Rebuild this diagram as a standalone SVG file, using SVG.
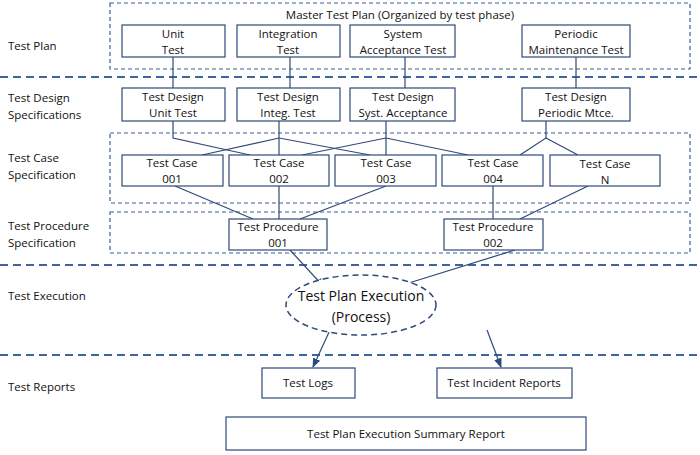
<svg xmlns="http://www.w3.org/2000/svg" width="700" height="455" viewBox="0 0 700 455">
<style>
text{font-family:"Open Sans","Liberation Sans",sans-serif;font-size:11.5px;fill:#111}
.c{text-anchor:middle}
.b{fill:#fff;stroke:#2e4a78;stroke-width:1.2}
.d{fill:none;stroke:#3d5f96;stroke-width:1.2;stroke-dasharray:4,3}
.s{fill:none;stroke:#3d65a0;stroke-width:2;stroke-dasharray:8,5}
.k{stroke:#2e4a78;stroke-width:1.2;fill:none}
</style>
<defs><marker id="a" viewBox="0 0 10 10" refX="9" refY="5" markerWidth="8" markerHeight="8" orient="auto"><path d="M0,1L10,5L0,9z" fill="#2e4a78"/></marker></defs>
<g id="phases">
<line class="s" x1="0" y1="77" x2="700" y2="77"/><line class="s" x1="0" y1="265" x2="700" y2="265"/><line class="s" x1="0" y1="355" x2="700" y2="355"/>
<rect class="d" x="110" y="3" width="580" height="66"/><rect class="d" x="110" y="133" width="580" height="70"/><rect class="d" x="110" y="212" width="580" height="41"/>
<text x="8" y="50">Test Plan</text>
<text x="8" y="102">Test Design</text><text x="8" y="119">Specifications</text>
<text x="8" y="162">Test Case</text><text x="8" y="179">Specification</text>
<text x="8" y="230">Test Procedure</text><text x="8" y="247">Specification</text>
<text x="8" y="300">Test Execution</text>
<text x="8" y="391">Test Reports</text>
<text class="c" x="400" y="19">Master Test Plan (Organized by test phase)</text>
</g>
<g id="connectors" class="k">
<line x1="173" y1="57" x2="173" y2="88"/><line x1="290" y1="57" x2="290" y2="88"/><line x1="405" y1="57" x2="405" y2="88"/><line x1="576" y1="57" x2="576" y2="88"/>
<polyline points="173,121 173,138 250,155"/><polyline points="279,121 279,155"/><line x1="279" y1="138" x2="202" y2="155"/><line x1="279" y1="138" x2="370" y2="155"/>
<polyline points="386,121 386,155"/><line x1="386" y1="138" x2="302" y2="155"/><line x1="386" y1="138" x2="468" y2="155"/>
<polyline points="546,121 546,138 520,155"/><line x1="546" y1="138" x2="578" y2="155"/>
<line x1="175" y1="186" x2="253" y2="219"/><line x1="279" y1="186" x2="279" y2="219"/><line x1="386" y1="186" x2="300" y2="219"/>
<line x1="493" y1="186" x2="493" y2="219"/><line x1="588" y1="186" x2="520" y2="219"/>
<line x1="290" y1="250" x2="324" y2="287" marker-end="url(#a)"/><line x1="515" y1="250" x2="396" y2="287" marker-end="url(#a)"/>
<line x1="330" y1="330" x2="313" y2="367" marker-end="url(#a)"/><line x1="487" y1="330" x2="501" y2="367" marker-end="url(#a)"/>
</g>
<g id="tp-unit"><rect class="b" x="122" y="25" width="103" height="32"/><text class="c" x="173" y="38">Unit</text><text class="c" x="173" y="54">Test</text></g>
<g id="tp-integ"><rect class="b" x="237" y="25" width="103" height="32"/><text class="c" x="288" y="38">Integration</text><text class="c" x="288" y="54">Test</text></g>
<g id="tp-sys"><rect class="b" x="350" y="25" width="105" height="32"/><text class="c" x="403" y="38">System</text><text class="c" x="403" y="54">Acceptance Test</text></g>
<g id="tp-per"><rect class="b" x="522" y="25" width="108" height="32"/><text class="c" x="576" y="38">Periodic</text><text class="c" x="576" y="54">Maintenance Test</text></g>
<g id="td-unit"><rect class="b" x="122" y="88" width="103" height="33"/><text class="c" x="173" y="101">Test Design</text><text class="c" x="173" y="117">Unit Test</text></g>
<g id="td-integ"><rect class="b" x="237" y="88" width="103" height="33"/><text class="c" x="288" y="101">Test Design</text><text class="c" x="288" y="117">Integ. Test</text></g>
<g id="td-sys"><rect class="b" x="350" y="88" width="105" height="33"/><text class="c" x="403" y="101">Test Design</text><text class="c" x="403" y="117">Syst. Acceptance</text></g>
<g id="td-per"><rect class="b" x="522" y="88" width="108" height="33"/><text class="c" x="576" y="101">Test Design</text><text class="c" x="576" y="117">Periodic Mtce.</text></g>
<g id="tc001"><rect class="b" x="122" y="155" width="101" height="31"/><text class="c" x="172" y="167">Test Case</text><text class="c" x="172" y="183">001</text></g>
<g id="tc002"><rect class="b" x="229" y="155" width="100" height="31"/><text class="c" x="279" y="167">Test Case</text><text class="c" x="279" y="183">002</text></g>
<g id="tc003"><rect class="b" x="335" y="155" width="101" height="31"/><text class="c" x="386" y="167">Test Case</text><text class="c" x="386" y="183">003</text></g>
<g id="tc004"><rect class="b" x="442" y="155" width="101" height="31"/><text class="c" x="493" y="167">Test Case</text><text class="c" x="493" y="183">004</text></g>
<g id="tcN"><rect class="b" x="550" y="155" width="110" height="31"/><text class="c" x="605" y="168">Test Case</text><text class="c" x="605" y="184">N</text></g>
<g id="tpr001"><rect class="b" x="229" y="219" width="98" height="31"/><text class="c" x="278" y="231">Test Procedure</text><text class="c" x="278" y="247">001</text></g>
<g id="tpr002"><rect class="b" x="444" y="219" width="99" height="31"/><text class="c" x="493" y="231">Test Procedure</text><text class="c" x="493" y="247">002</text></g>
<g id="exec"><ellipse cx="361" cy="305" rx="75" ry="30" fill="#fff" stroke="#2e4a78" stroke-width="1.5" stroke-dasharray="6,4"/><text class="c" x="361" y="301" style="font-size:14px">Test Plan Execution</text><text class="c" x="361" y="322" style="font-size:14px">(Process)</text></g>
<g id="logs"><rect class="b" x="262" y="368" width="93" height="30"/><text class="c" x="308" y="387">Test Logs</text></g>
<g id="incident"><rect class="b" x="437" y="368" width="135" height="30"/><text class="c" x="504" y="387">Test Incident Reports</text></g>
<g id="summary"><rect class="b" x="226" y="417" width="360" height="33"/><text class="c" x="406" y="438">Test Plan Execution Summary Report</text></g>
</svg>
